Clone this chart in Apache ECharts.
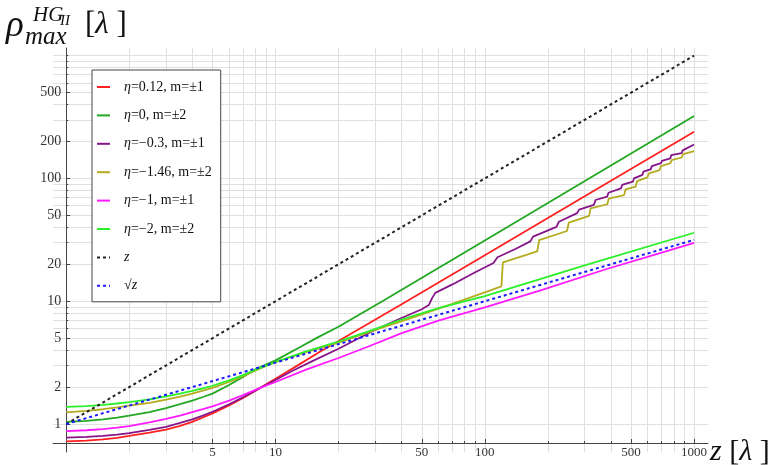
<!DOCTYPE html>
<html><head><meta charset="utf-8">
<script src="https://cdn.jsdelivr.net/npm/echarts@6/dist/echarts.min.js"></script>
<style>html,body{margin:0;padding:0;background:#fff}#c{width:782px;height:465px}</style>
</head><body><div id="c"></div>
<script>
// ---- data (z in λ, ρ in λ) ----
const seriesNames = ['η=0.12, m=±1','η=0, m=±2','η=−0.3, m=±1','η=−1.46, m=±2','η=−1, m=±1','η=−2, m=±2','z','√z'];
const legendLabels = ['{i|η}=0.12, m=±1','{i|η}=0, m=±2','{i|η}=−0.3, m=±1','{i|η}=−1.46, m=±2','{i|η}=−1, m=±1','{i|η}=−2, m=±2','{i|z}','√{i|z}'];
const seriesColors = ['#ff2020','#22a822','#86158a','#b4ac20','#ff1aff','#2af02a','#222222','#1a1aff'];

const redData = [[1,0.723],[1.25,0.733],[1.5,0.75],[1.75,0.772],[2,0.80],[2.5,0.85],[3,0.90],[3.5,0.965],[4,1.04],[4.5,1.13],[5,1.22],[6,1.42],[7,1.63],[8.5,1.98],[10,2.34],[13,3.06],[16.3,3.88],[20,4.74],[39.5,9.3],[100,23.7],[300,71.5],[1000,240]];
const greenData = [[1,1.04],[1.25,1.06],[1.5,1.09],[1.75,1.13],[2,1.17],[2.5,1.25],[3,1.35],[3.5,1.45],[4,1.55],[4.5,1.66],[5,1.77],[6,2.08],[7,2.42],[8,2.78],[9,3.05],[10,3.3],[13,4.2],[16,5.1],[20,6.2],[33,10.2],[100,31.2],[1000,322]];
const purpleData = [[1,0.774],[1.25,0.785],[1.5,0.80],[1.75,0.82],[2,0.845],[2.5,0.895],[3,0.95],[3.5,1.02],[4,1.09],[4.5,1.17],[5,1.26],[6,1.45],[7,1.65],[8.5,1.98],[10,2.28],[12,2.7],[15,3.25],[20,4.1],[30,5.85],[40,7.3],[50,8.6],[54,9.3],[56,10.6],[58,11.7],[70,13.7],[90,17.2],[110,20.5],[115,22.8],[140,26.6],[165,30.7],[170,33.6],[220,40.3],[226,44.4],[276,52.2],[282,55.7],[332,60.8],[338,66.7],[384,71.0],[390,76.4],[447,83.0],[453,88.4],[510,94.0],[516,100],[566,106.7],[572,113.5],[620,118.4],[628,126],[695,133],[702,139],[770,145.5],[778,155],[872,160.5],[882,169],[1000,189]];
const oliveData = [[1,1.245],[1.25,1.28],[1.5,1.32],[1.75,1.365],[2,1.41],[2.5,1.49],[3,1.58],[3.5,1.67],[4,1.77],[4.5,1.87],[5,1.97],[6,2.2],[7,2.45],[8,2.72],[10,3.2],[14,3.85],[20,4.6],[30,5.85],[44,7.25],[70,9.5],[100,11.8],[120,13.2],[122,20.7],[150,23.2],[178,25.5],[182,31.5],[247,37.3],[252,43.7],[315,49.5],[320,57],[385,61.6],[391,68.6],[463,73.1],[470,81.4],[525,85.6],[534,95.2],[598,102],[608,110],[684,117],[694,126],[770,133],[782,141],[872,148],[886,158],[1000,167]];
const magentaData = [[1,0.877],[1.25,0.89],[1.5,0.91],[1.75,0.935],[2,0.963],[2.5,1.03],[3,1.10],[3.5,1.17],[4,1.25],[4.5,1.32],[5,1.39],[6,1.55],[7,1.72],[8.5,1.98],[10,2.2],[14,2.77],[20,3.45],[28,4.3],[39.5,5.45],[60,6.95],[100,8.9],[183,12.2],[382,18.3],[615,23.3],[1000,29.9]];
const brightData = [[1,1.38],[1.25,1.40],[1.5,1.43],[1.75,1.47],[2,1.51],[2.5,1.59],[3,1.68],[3.5,1.77],[4,1.86],[4.5,1.95],[5,2.05],[6,2.27],[7,2.5],[8,2.76],[10,3.2],[14,3.9],[20,4.7],[28,5.7],[40,7.1],[60,8.8],[100,11.0],[300,19.6],[1000,36.1]];
const zData = [[1,1],[1000,1000]];
const sqrtzData = [[1,1],[1000,31.62]];

const xMinorTicks = [1,2,3,4,5,6,7,8,9,10,20,30,40,50,60,70,80,90,100,200,300,400,500,600,700,800,900,1000];
const xMajorTicks = [5,10,50,100,500,1000];
const yMinorTicks = [1,2,3,4,5,6,7,8,9,10,20,30,40,50,60,70,80,90,100,200,300,400,500,600,700,800,900,1000];
const yMajorTicks = [1,2,5,10,20,50,100,200,500];
const xRange = [0.865, 1165];
const yRange = [0.592, 1153];

const allData = [redData, greenData, purpleData, oliveData, magentaData, brightData, zData, sqrtzData];
const dashed = [false,false,false,false,false,false,true,true];

const SERIF = '"Liberation Serif", "DejaVu Serif", serif';
const gridColor = '#e0e0e0';
const axisColor = '#444';

function makeAxes(dim, range, minor, major, offset, fontSize) {
  const base = {
    type: 'log', logBase: 10, min: range[0], max: range[1], offset: offset,
    position: dim === 'x' ? 'bottom' : 'left', gridIndex: 0
  };
  return [
    Object.assign({}, base, {
      axisLine: {show: true, lineStyle: {color: axisColor, width: 1}},
      axisTick: {show: true, inside: true, length: 2, customValues: minor, lineStyle: {color: axisColor}},
      splitLine: {show: true, lineStyle: {color: gridColor, width: 1}},
      minorTick: {show: false}, minorSplitLine: {show: false},
      axisLabel: {show: true, customValues: major, margin: dim === 'x' ? 3 : 5,
        fontFamily: SERIF, fontSize: fontSize, color: '#333',
        formatter: v => String(Math.round(v))}
    }),
    Object.assign({}, base, {
      axisLine: {show: false},
      axisTick: {show: true, inside: true, length: 4, customValues: major, lineStyle: {color: axisColor}},
      splitLine: {show: false},
      axisLabel: {show: false}
    })
  ];
}

const series = seriesNames.map((name, i) => ({
  name: name,
  type: 'line',
  xAxisIndex: 0, yAxisIndex: 0,
  data: allData[i],
  showSymbol: false, symbol: 'circle', symbolSize: 0,
  smooth: false,
  color: seriesColors[i],
  lineStyle: {color: seriesColors[i], width: dashed[i] ? 2 : 1.8, type: dashed[i] ? [3, 3] : 'solid'},
  z: 2 + i,
  animation: false
}));

const chart = echarts.init(document.getElementById('c'), null, {renderer: 'canvas'});
chart.setOption({
  backgroundColor: '#fff',
  animation: false,
  grid: {left: 53, right: 74, top: 48, bottom: 13, containLabel: false},
  xAxis: makeAxes('x', xRange, xMinorTicks, xMajorTicks, -9, 13),
  yAxis: makeAxes('y', yRange, yMinorTicks, yMajorTicks, -13.2, 14),
  legend: {
    orient: 'vertical', left: 92, top: 70,
    padding: [10, 9, 9, 4], itemGap: 14.4, itemWidth: 13, itemHeight: 14,
    backgroundColor: '#fff', borderColor: '#444', borderWidth: 1, borderRadius: 0,
    data: seriesNames,
    itemStyle: {opacity: 0},
    formatter: name => legendLabels[seriesNames.indexOf(name)],
    textStyle: {
      fontFamily: SERIF, fontSize: 14, color: '#111', padding: [0, 0, 0, 9],
      rich: {i: {fontFamily: SERIF, fontSize: 14, fontStyle: 'italic', color: '#111'}}
    }
  },
  graphic: [
    {type: 'text', x: 6, y: 26, style: {text: 'ρ', font: 'italic 37px ' + SERIF, fill: '#111', verticalAlign: 'middle'}},
    {type: 'text', x: 25, y: 37, style: {text: 'max', font: 'italic 25px ' + SERIF, fill: '#111', verticalAlign: 'middle'}},
    {type: 'text', x: 33, y: 15, style: {text: 'HG', font: 'italic 21px ' + SERIF, fill: '#111', verticalAlign: 'middle'}},
    {type: 'text', x: 60, y: 21, style: {text: 'II', font: 'italic 15px ' + SERIF, fill: '#111', verticalAlign: 'middle'}},
    {type: 'text', x: 85, y: 25, style: {text: '[{i|λ} ]', font: '31px ' + SERIF, fill: '#111', verticalAlign: 'middle',
      rich: {i: {fontStyle: 'italic', fontSize: 31, fontFamily: SERIF, fill: '#111'}}}},
    {type: 'text', x: 710, y: 452, style: {text: '{i|z} [{i|λ} ]', font: '30px ' + SERIF, fill: '#111', verticalAlign: 'middle',
      rich: {i: {fontStyle: 'italic', fontSize: 30, fontFamily: SERIF, fill: '#111'}}}}
  ],
  series: series
});
</script>
</body></html>
